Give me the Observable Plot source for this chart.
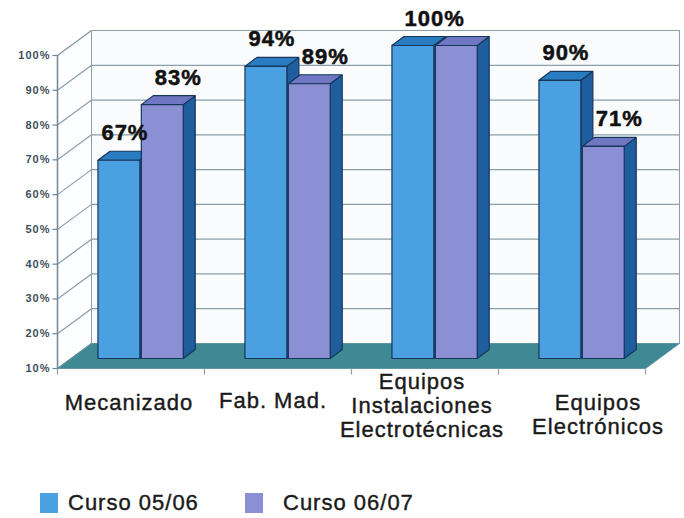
<!DOCTYPE html>
<html>
<head>
<meta charset="utf-8">
<script src="https://cdn.jsdelivr.net/npm/d3@7"></script>
<script src="https://cdn.jsdelivr.net/npm/@observablehq/plot@0.6"></script>
<style>
  html, body { margin: 0; padding: 0; background: #ffffff; }
  body { width: 684px; height: 518px; overflow: hidden; font-family: "Liberation Sans", Arial, sans-serif; }
  #legend { position: relative; height: 50px; }
  .item { position: absolute; top: 22px; display: flex; align-items: center; font-size: 22px; letter-spacing: 1px; color: #1a1a1a; -webkit-text-stroke: 0.4px #1a1a1a; }
  .sw { width: 18px; height: 20px; margin-right: 10px; }
</style>
</head>
<body>
<div id="chart"></div>
<div id="legend"></div>
<script>
// ---- data ----
const categories = ["Mecanizado", "Fab. Mad.", "Equipos\nInstalaciones\nElectrotécnicas", "Equipos\nElectrónicos"];
const seriesNames = ["Curso 05/06", "Curso 06/07"];
const curso0506 = [67, 94, 100, 90];
const curso0607 = [83, 89, 100, 71];
const yTicks = [10, 20, 30, 40, 50, 60, 70, 80, 90, 100];
const yTickLabels = ["10%", "20%", "30%", "40%", "50%", "60%", "70%", "80%", "90%", "100%"];

// ---- styles / layout ----
const W = 684, H = 468;
const M = {top: 55, right: 39, bottom: 100, left: 57};
const frontColors = ["#4aa0e0", "#8b8fd4"];
const topColors = ["#2a7cc0", "#6f76c2"];
const sideColor = "#1f5e9e";
const barStroke = "#16365a";
const catLabelNudge = [[-2, -3], [-5, -5], [-3, 0], [26, 9]]; // px nudges of category labels

const yBase = yTicks[0], yTop = yTicks[yTicks.length - 1], nCat = categories.length;
const kx = (W - M.left - M.right) / nCat; // px per category unit
const ky = (H - M.top - M.bottom) / (yTop - yBase); // px per percent
const off = (px, py) => [px / kx, -py / ky]; // pixel offset -> data offset
const [WX, WY] = off(34, -25);   // wall depth
const [BX, BY] = off(14, -10);   // bar set-back
const [DX, DY] = off(12, -9);    // bar depth
const barStart = [0.18, 0.475];
const barW = 0.285;
const labelShift = [0, 10 / kx]; // extra label shift per series (px -> data)

function addPoly(arr, id, fill, pts) {
  pts.concat([pts[0]]).forEach(([x, y]) => arr.push({id, fill, x, y}));
}

// walls + floor
const walls = [];
addPoly(walls, "back", "#f9fbfd", [[WX, yBase + WY], [nCat + WX, yBase + WY], [nCat + WX, yTop + WY], [WX, yTop + WY]]);
addPoly(walls, "left", "#fdfeff", [[0, yBase], [WX, yBase + WY], [WX, yTop + WY], [0, yTop]]);
const floor = [];
addPoly(floor, "floor", "#3f8995", [[0, yBase], [nCat, yBase], [nCat + WX, yBase + WY], [WX, yBase + WY]]);

// bars
const series = [curso0506, curso0607];
const bars = [];
const labels = [];
categories.forEach((c, i) => {
  series.forEach((vals, s) => {
    const v = vals[i];
    const x1 = i + barStart[s] + BX, x2 = x1 + barW;
    const y0 = yBase + BY, y1 = v + BY;
    const id = `${i}-${s}`;
    addPoly(bars, id + "side", sideColor, [[x2, y0], [x2 + DX, y0 + DY], [x2 + DX, y1 + DY], [x2, y1]]);
    addPoly(bars, id + "top", topColors[s], [[x1, y1], [x2, y1], [x2 + DX, y1 + DY], [x1 + DX, y1 + DY]]);
    addPoly(bars, id + "front", frontColors[s], [[x1, y0], [x2, y0], [x2, y1], [x1, y1]]);
  });
  const a = curso0506[i], b = curso0607[i];
  if (a === b) {
    labels.push({x: i + (barStart[0] + barStart[1] + barW) / 2 + BX, y: a + BY, text: a + "%"});
  } else {
    series.forEach((vals, s) => {
      labels.push({x: i + barStart[s] + barW / 2 + BX + DX / 2 + labelShift[s], y: vals[i] + BY, text: vals[i] + "%"});
    });
  }
});

const catLabels = categories.map((c, i) => ({
  x: i + 0.5 + catLabelNudge[i][0] / kx,
  y: yBase - catLabelNudge[i][1] / ky,
  text: c
}));

const gridColor = "#8b9eaa";

const chart = Plot.plot({
  width: W, height: H,
  marginTop: M.top, marginRight: M.right, marginBottom: M.bottom, marginLeft: M.left,
  x: {domain: [0, nCat], axis: null},
  y: {domain: [yBase, yTop], axis: null},
  style: {background: "#ffffff", fontFamily: "'Liberation Sans', Arial, sans-serif", overflow: "visible", letterSpacing: "1px"},
  marks: [
    Plot.line(walls, {x: "x", y: "y", z: "id", fill: "fill", stroke: gridColor, strokeWidth: 1, curve: "linear"}),
    Plot.link(yTicks, {x1: WX, x2: nCat + WX, y1: d => d + WY, y2: d => d + WY, stroke: gridColor, strokeWidth: 1.2}),
    Plot.link(yTicks, {x1: 0, x2: WX, y1: d => d, y2: d => d + WY, stroke: gridColor, strokeWidth: 1.2}),
    Plot.line(floor, {x: "x", y: "y", z: "id", fill: "fill", stroke: "#5f95a2", strokeWidth: 1, curve: "linear"}),
    Plot.ruleX([0], {y1: yBase, y2: yTop, stroke: "#6d8796", strokeWidth: 1.5}),
    Plot.link(yTicks, {x1: -5 / kx, x2: 0, y1: d => d, y2: d => d, stroke: "#6d8796", strokeWidth: 1.2}),
    Plot.link(d3.range(nCat + 1), {x1: d => d, x2: d => d, y1: yBase, y2: yBase - 6 / ky, stroke: "#8b9eaa", strokeWidth: 1.2}),
    Plot.text(yTicks, {x: 0, y: d => d, text: (d, i) => yTickLabels[i], dx: -7, textAnchor: "end", fontSize: 11, fontWeight: "bold", fill: "#3e4e5a"}),
    Plot.line(bars, {x: "x", y: "y", z: "id", fill: "fill", stroke: barStroke, strokeWidth: 1.2, strokeLinejoin: "miter", curve: "linear"}),
    Plot.text(labels, {x: "x", y: "y", text: "text", dy: -27, fontSize: 22, fontWeight: "bold", fill: "#111111", stroke: "#111111", strokeWidth: 0.5}),
    Plot.text(catLabels, {x: "x", y: "y", text: "text", dy: 37, lineAnchor: "middle", lineHeight: 1.09, fontSize: 22, fill: "#1a1a1a", stroke: "#1a1a1a", strokeWidth: 0.4})
  ]
});
document.getElementById("chart").appendChild(chart);

// legend
const legend = document.getElementById("legend");
const legendLeft = [40, 245];
seriesNames.forEach((name, s) => {
  const item = document.createElement("div");
  item.className = "item";
  item.style.left = legendLeft[s] + "px";
  const sw = document.createElement("div");
  sw.className = "sw";
  sw.style.background = frontColors[s];
  if (s === 1) sw.style.marginRight = "20px";
  const label = document.createElement("span");
  label.textContent = name;
  item.appendChild(sw);
  item.appendChild(label);
  legend.appendChild(item);
});
</script>
</body>
</html>
